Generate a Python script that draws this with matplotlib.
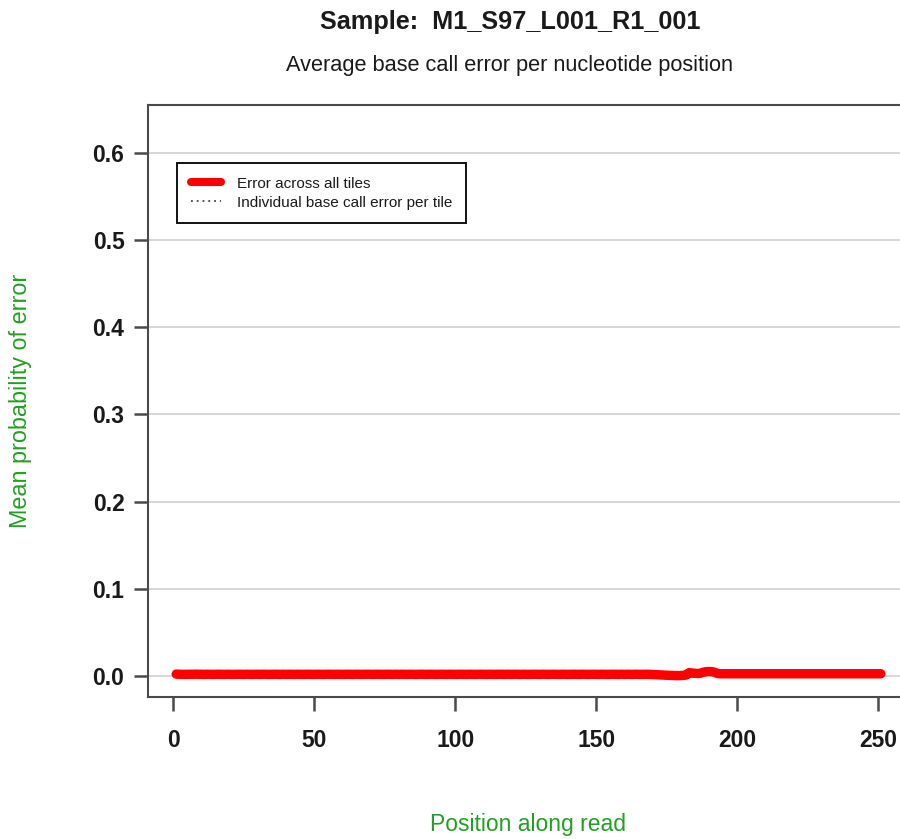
import matplotlib
matplotlib.use("Agg")
import matplotlib.pyplot as plt
from matplotlib.lines import Line2D

plt.rcParams['font.family'] = ['Liberation Sans', 'DejaVu Sans']

# ---- data ----
positions = list(range(1, 252))
mean_error = (
    [0.0018, 0.0016, 0.0015, 0.0015, 0.0016, 0.0015, 0.0016, 0.0017, 0.0016, 0.0015] +
    [0.0015, 0.0016, 0.0015, 0.0015, 0.0016, 0.0016, 0.0015, 0.0015, 0.0016, 0.0015] +
    [0.0015, 0.0016, 0.0016, 0.0015, 0.0015, 0.0016, 0.0015, 0.0015, 0.0016, 0.0016] +
    [0.0015, 0.0016, 0.0015, 0.0015, 0.0016, 0.0016, 0.0015, 0.0015, 0.0016, 0.0015] +
    [0.0016, 0.0015, 0.0015, 0.0016, 0.0015, 0.0015, 0.0016, 0.0016, 0.0015, 0.0015] +
    [0.0016, 0.0015, 0.0015, 0.0016, 0.0016, 0.0015, 0.0015, 0.0016, 0.0015, 0.0015] +
    [0.0016, 0.0016, 0.0015, 0.0015, 0.0016, 0.0015, 0.0015, 0.0016, 0.0016, 0.0015] +
    [0.0015, 0.0016, 0.0015, 0.0015, 0.0016, 0.0016, 0.0015, 0.0015, 0.0016, 0.0015] +
    [0.0016, 0.0015, 0.0015, 0.0016, 0.0015, 0.0015, 0.0016, 0.0016, 0.0015, 0.0015] +
    [0.0016, 0.0015, 0.0015, 0.0016, 0.0016, 0.0015, 0.0015, 0.0016, 0.0015, 0.0015] +
    [0.0016, 0.0016, 0.0015, 0.0015, 0.0016, 0.0015, 0.0015, 0.0016, 0.0016, 0.0015] +
    [0.0015, 0.0016, 0.0015, 0.0015, 0.0016, 0.0016, 0.0015, 0.0015, 0.0016, 0.0015] +
    [0.0016, 0.0015, 0.0015, 0.0016, 0.0015, 0.0015, 0.0016, 0.0016, 0.0015, 0.0015] +
    [0.0016, 0.0015, 0.0015, 0.0016, 0.0016, 0.0015, 0.0015, 0.0016, 0.0015, 0.0015] +
    [0.0016, 0.0016, 0.0015, 0.0015, 0.0016, 0.0015, 0.0015, 0.0016, 0.0016, 0.0015] +
    [0.0015, 0.0016, 0.0015, 0.0015, 0.0016, 0.0016, 0.0015, 0.0015, 0.0016, 0.0015] +
    [0.0016, 0.0015, 0.0015, 0.0016, 0.0015, 0.0015, 0.0016, 0.0016, 0.0015, 0.0014] +
    [0.0012, 0.0010, 0.0008, 0.0006, 0.0005, 0.0004, 0.0002, 0.0001, 0.0000, 0.0002] +
    [0.0004, 0.0008, 0.0035, 0.0030, 0.0028, 0.0025, 0.0028, 0.0040, 0.0045, 0.0048] +
    [0.0046, 0.0040, 0.0025, 0.0022, 0.0022, 0.0021, 0.0022, 0.0022, 0.0021, 0.0022] +
    [0.0022, 0.0021, 0.0022, 0.0022, 0.0021, 0.0022, 0.0022, 0.0021, 0.0022, 0.0022] +
    [0.0021, 0.0022, 0.0022, 0.0021, 0.0022, 0.0022, 0.0021, 0.0022, 0.0022, 0.0021] +
    [0.0022, 0.0022, 0.0021, 0.0022, 0.0022, 0.0021, 0.0022, 0.0022, 0.0021, 0.0022] +
    [0.0022, 0.0021, 0.0022, 0.0022, 0.0021, 0.0022, 0.0022, 0.0021, 0.0022, 0.0022] +
    [0.0021, 0.0022, 0.0022, 0.0021, 0.0022, 0.0022, 0.0021, 0.0022, 0.0022, 0.0021] +
    [0.0022]
)
x_ticks = [0, 50, 100, 150, 200, 250]
y_ticks = [0.0, 0.1, 0.2, 0.3, 0.4, 0.5, 0.6]
y_tick_labels = ["0.0", "0.1", "0.2", "0.3", "0.4", "0.5", "0.6"]

title = "Sample:  M1_S97_L001_R1_001"
subtitle = "Average base call error per nucleotide position"
legend_labels = ["Error across all tiles", "Individual base call error per tile"]

# ---- figure ----
W, H = 900, 839
fig = plt.figure(figsize=(W / 100, H / 100), dpi=100)
left, right, top, bottom = 148, 909, 105, 697
ax = fig.add_axes([left / W, 1 - bottom / H, (right - left) / W, (bottom - top) / H])

axis_col = "#4a4a4a"
green = "#22a022"

for yt in y_ticks:
    ax.axhline(yt, color="#d0d0d0", lw=1.2, zorder=0)

ax.plot(positions, mean_error, color="#ff0000", lw=6.8, solid_capstyle="round",
        solid_joinstyle="round", zorder=3)

ax.set_xlim(-9, 261)
ax.set_ylim(-0.0245, 0.6555)
ax.set_xticks(x_ticks)
ax.set_xticklabels([str(v) for v in x_ticks])
ax.set_yticks(y_ticks)
ax.set_yticklabels(y_tick_labels)

for s in ax.spines.values():
    s.set_color(axis_col)
    s.set_linewidth(1.5)

ax.tick_params(axis="both", direction="out", length=10, width=1.8, color=axis_col,
               labelsize=16.5, labelcolor="#1a1a1a")
ax.tick_params(axis="x", pad=13)
ax.tick_params(axis="y", pad=7)
for lab in ax.get_xticklabels() + ax.get_yticklabels():
    lab.set_fontweight("bold")

fig.text(510 / W, 1 - 22 / H, title, ha="center", va="center", fontsize=18.2,
         fontweight="bold", color="#1a1a1a")
fig.text(510 / W, 1 - 66 / H, subtitle, ha="center", va="center", fontsize=15.7,
         color="#1a1a1a")
fig.text(528 / W, 1 - 825 / H, "Position along read", ha="center", va="center",
         fontsize=16.5, color=green)
fig.text(21 / W, 1 - 401 / H, "Mean probability of error", ha="center", va="center",
         fontsize=16.8, color=green, rotation=90)

handles = [Line2D([0], [0], color="#ff0000", lw=5.8, solid_capstyle="round"),
           Line2D([0], [0], color="#444444", lw=1.3, linestyle=(0, (1, 2.2)))]
leg = ax.legend(handles, legend_labels, loc="upper left",
                bbox_to_anchor=((177 - left) / (right - left), 1 - (163 - top) / (bottom - top)),
                frameon=True, fancybox=False, framealpha=1, edgecolor="#111111",
                fontsize=11, handlelength=2.0, handletextpad=1.0, borderpad=0.9,
                labelspacing=0.32, borderaxespad=0)
leg.get_frame().set_linewidth(1.4)
for t in leg.get_texts():
    t.set_color("#1a1a1a")

fig.savefig("out.png", dpi=100)
